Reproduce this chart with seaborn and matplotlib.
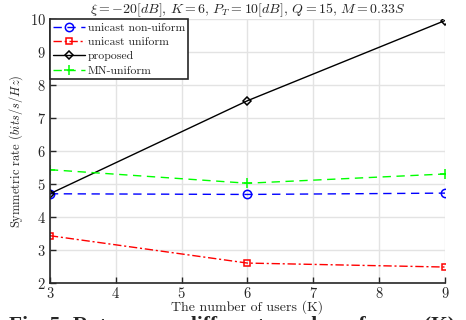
import numpy as np
import pandas as pd
import seaborn as sns
import matplotlib.pyplot as plt

users = [3, 6, 9]
unicast_nonuniform = [4.70, 4.68, 4.72]
unicast_uniform = [3.43, 2.60, 2.48]
proposed = [4.70, 7.52, 9.95]
mn_uniform = [5.43, 5.02, 5.30]

sns.set_style("whitegrid")
plt.rcParams['font.family'] = ['cmr10', 'DejaVu Serif']
plt.rcParams['mathtext.fontset'] = 'cm'
plt.rcParams['axes.formatter.use_mathtext'] = True

f = plt.figure(figsize=(4.66, 3.2), dpi=100)
ax = f.add_axes([0.107, 0.116, 0.848, 0.825])

series = [
    ("unicast non-uiform", unicast_nonuniform, "#0000ff", (0, (6, 4)), "o", 6),
    ("unicast uniform", unicast_uniform, "#ff0000", (0, (6, 2, 1.5, 2)), "s", 5),
    ("proposed", proposed, "black", "-", "D", 4.5),
    ("MN-uniform", mn_uniform, "#00ff00", (0, (6, 4)), "+", 7),
]
for name, vals, col, ls, mk, ms in series:
    df = pd.DataFrame({"K": users, "rate": vals})
    sns.lineplot(data=df, x="K", y="rate", ax=ax, color=col, linestyle=ls,
                 marker=mk, markersize=ms, markerfacecolor="none",
                 markeredgecolor=col, markeredgewidth=1.1, linewidth=1.0, label=name)

ax.set_xlim(3, 9)
ax.set_ylim(2, 10)
ax.set_xticks(range(3, 10))
ax.set_yticks(range(2, 11))
ax.grid(True, color="#e3e3e3", linewidth=1.0)
for s in ["top", "right"]:
    ax.spines[s].set_visible(False)
for s in ["left", "bottom"]:
    ax.spines[s].set_color("#262626")
    ax.spines[s].set_linewidth(1.2)
ax.tick_params(direction="in", length=4, width=1, colors="#262626", labelsize=10.5,
               left=True, bottom=True, labelcolor="#262626", pad=3)
ax.tick_params(axis="x", pad=2)
ax.set_xlabel("The number of users (K)", fontsize=10, labelpad=0, color="#262626")
ax.set_ylabel("Symmetric rate $(bits/s/Hz)$", fontsize=9, labelpad=3, color="#262626")
ax.set_title(r"$\xi=-20[dB],\,K=6,\,P_T=10[dB],\,Q=15,\,M=0.33S$", fontsize=10, pad=4)

leg = ax.legend(loc="upper left", fontsize=8.5, frameon=True, fancybox=False,
                borderaxespad=0, handlelength=2.7, handletextpad=0.2,
                labelspacing=0.35, borderpad=0.3)
leg.get_frame().set_edgecolor("#262626")
leg.get_frame().set_linewidth(1.2)
leg.get_frame().set_alpha(1)

f.text(0.02, 0.012, "Fig. 5: Rate versus different number of users (K)",
       fontsize=15.5, fontweight="bold", va="top", ha="left",
       family=["Liberation Serif", "DejaVu Serif"])

f.savefig("out.png", dpi=100)
